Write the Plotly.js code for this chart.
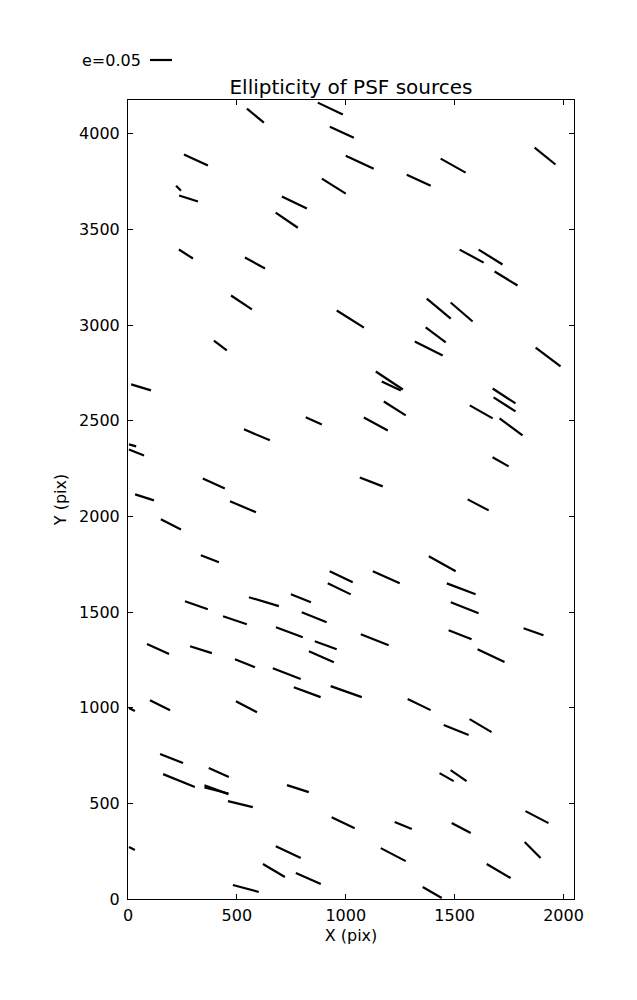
<!DOCTYPE html>
<html>
<head>
<meta charset="utf-8">
<script src="https://cdn.plot.ly/plotly-3.0.1.min.js"></script>
<style>html,body{margin:0;padding:0;background:#fff;}#chart{width:637px;height:1000px;}</style>
</head>
<body>
<div id="chart"></div>
<script>
// Whisker data: centre position (pix), ellipticity e, position angle (deg, on the plot)
const xPix = [585,929,982,1915,312,1064,1493,1335,945,232,
278,764,729,266,583,1578,1665,1736,521,1021,
1427,1532,1413,1381,424,1929,1200,1209,60,1225,
853,1138,592,1727,1729,1622,1759,21,39,1711,
1117,394,76,1608,528,197,376,1443,979,1186,
970,1530,794,624,314,855,1546,491,741,1862,
1525,1133,908,138,335,888,1667,537,729,823,
1002,1337,18,147,544,1507,1619,200,417,234,
406,406,
1463,1518,780,516,1878,988,1264,1530,
1858,18,736,1218,670,1702,828,541,1397];
const yPix = [4094,4131,4008,3883,3862,3851,3833,3757,3726,3715,
3661,3640,3548,3371,3324,3360,3355,3243,3118,3031,
3086,3068,2948,2877,2893,2833,2710,2681,2674,2564,
2499,2483,2426,2629,2585,2546,2467,2371,2334,2285,
2180,2172,2099,2060,2050,1958,1778,1752,1684,1682,
1621,1621,1572,1554,1535,1473,1522,1457,1394,1397,
1381,1355,1326,1306,1303,1266,1272,1232,1178,1081,
1084,1016,990,1013,1005,883,906,734,661,619,
571,567,
637,645,577,496,428,399,384,371,
256,264,245,232,149,146,107,55,34];
const ellip = [.050,.063,.060,.061,.060,.070,.065,.060,.064,.016,
.045,.063,.061,.038,.052,.062,.064,.061,.057,.073,
.071,.066,.057,.071,.037,.071,.074,.048,.047,.059,
.040,.062,.064,.062,.059,.060,.065,.017,.037,.042,
.056,.055,.045,.054,.064,.051,.044,.070,.058,.067,
.058,.070,.049,.071,.055,.061,.068,.057,.065,.048,
.056,.068,.053,.055,.052,.062,.068,.049,.068,.065,
.075,.058,.015,.051,.054,.061,.058,.056,.050,.078,
.058,.056,
.037,.044,.052,.058,.059,.058,.042,.049,
.051,.015,.063,.064,.058,.063,.062,.061,.050];
const angle = [-39.5,-25.6,-24.6,-39.0,-24.6,-24.9,-29.2,-24.6,-32.0,-45,
-17.5,-25.6,-34.3,-32.7,-28.8,-28.4,-32.0,-31.3,-33.7,-32.2,
-39.8,-40.8,-36.9,-26.6,-37.6,-37.2,-33.7,-25.3,-16.7,-32.5,
-23.6,-28.4,-22.9,-33.1,-32.5,-29.5,-36.5,-16,-21.8,-29.4,
-21.4,-24.4,-17.5,-27.6,-22.9,-26.6,-21.3,-29.1,-25.6,-24.0,
-25.6,-20.8,-21.8,-16.7,-19.2,-21.8,-21.4,-18.4,-20.3,-19.3,
-21.4,-21.4,-20.0,-24.4,-17.7,-23.7,-25.7,-21.8,-21.4,-20.3,
-19.5,-25.6,-26.6,-26.6,-27.6,-21.8,-30.6,-21.4,-24.2,-22.1,
-20,-14,
-29.7,-34.5,-17.7,-13.5,-27.6,-25.6,-22.4,-27.8,
-45,-26.6,-25.6,-27.5,-30.6,-30.3,-23.7,-15.1,-30.1];
const legendE = 0.05;
const legendLabel = 'e=0.05';
const xRange = [0, 2048];
const yRange = [0, 4176];
const xTicks = [0, 500, 1000, 1500, 2000];
const yTicks = [0, 500, 1000, 1500, 2000, 2500, 3000, 3500, 4000];

const W = 637, H = 1000;
const M = {l: 128, r: 63, t: 100, b: 101};
const plotW = W - M.l - M.r, plotH = H - M.t - M.b;
const kx = plotW / (xRange[1] - xRange[0]);
const ky = plotH / (yRange[1] - yRange[0]);
const pxPerE = 440; // whisker length on screen per unit ellipticity

const lx = [], ly = [];
for (let i = 0; i < xPix.length; i++) {
  const half = ellip[i] * pxPerE / 2;
  const a = angle[i] * Math.PI / 180;
  const dx = half * Math.cos(a) / kx, dy = half * Math.sin(a) / ky;
  lx.push(xPix[i] - dx, xPix[i] + dx, null);
  ly.push(yPix[i] - dy, yPix[i] + dy, null);
}

const font = {family: 'DejaVu Sans, sans-serif', size: 16, color: '#000'};
const legLen = legendE * pxPerE / plotW;
const legX0 = (150 - M.l) / plotW;
const legY = (H - M.b - 60) / plotH;

const axisCommon = {
  showgrid: false, zeroline: false, showline: true, linecolor: '#000', linewidth: 1,
  mirror: 'ticks', ticks: 'inside', ticklen: 5, tickwidth: 1, tickcolor: '#000',
  tickfont: font, fixedrange: true
};

Plotly.newPlot('chart', [{
  type: 'scatter', mode: 'lines', x: lx, y: ly, connectgaps: false,
  line: {color: '#000', width: 2.2}, hoverinfo: 'skip', showlegend: false
}], {
  width: W, height: H, margin: M, paper_bgcolor: '#fff', plot_bgcolor: '#fff',
  font: font, showlegend: false,
  title: {text: 'Ellipticity of PSF sources', font: {family: font.family, size: 20, color: '#000'},
          x: 0.5, xref: 'paper', xanchor: 'center', y: 1 - 87 / H, yref: 'container', yanchor: 'middle'},
  xaxis: Object.assign({}, axisCommon, {range: xRange, tickvals: xTicks, ticktext: xTicks.map(String),
          ticklabelstandoff: 2, title: {text: 'X (pix)', font: font, standoff: 5}}),
  yaxis: Object.assign({}, axisCommon, {range: yRange, tickvals: yTicks, ticktext: yTicks.map(String),
          ticklabelstandoff: 4, title: {text: 'Y (pix)', font: font, standoff: 8}}),
  shapes: [{type: 'line', xref: 'paper', yref: 'paper', x0: legX0, x1: legX0 + legLen, y0: legY, y1: legY,
            line: {color: '#000', width: 2.2}}],
  annotations: [{text: legendLabel, xref: 'paper', yref: 'paper', x: (143 - M.l) / plotW, y: legY,
                 xanchor: 'right', yanchor: 'middle', showarrow: false, font: font}]
}, {staticPlot: true});
</script>
</body>
</html>
